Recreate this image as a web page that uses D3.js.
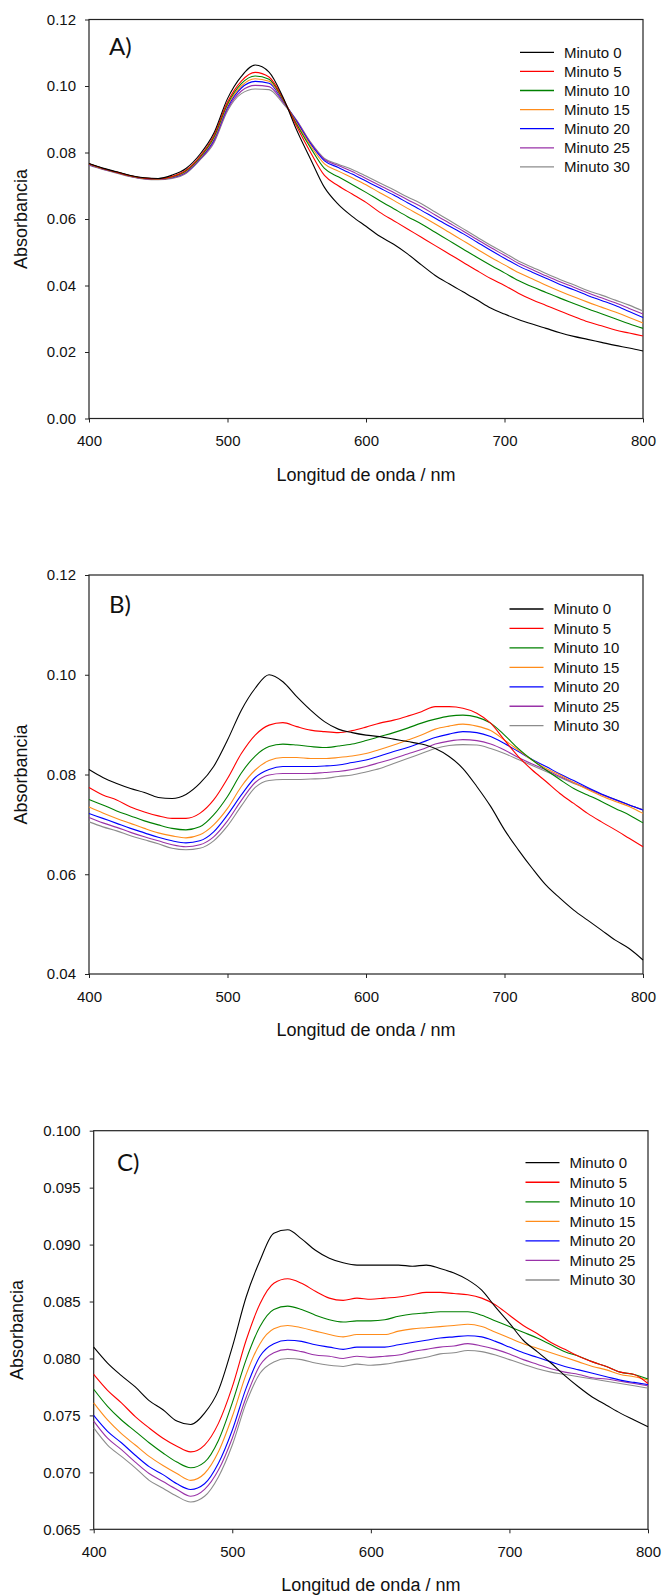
<!DOCTYPE html>
<html>
<head>
<meta charset="utf-8">
<script src="https://cdn.jsdelivr.net/npm/d3@7"></script>
<style>
  body { margin: 0; background: #fff; }
  svg { display: block; }
  .tick text { font-family: "Liberation Sans", Arial, sans-serif; font-size: 15px; fill: #111; }
  .ttl { font-family: "Liberation Sans", Arial, sans-serif; font-size: 18px; fill: #111; }
  .leg { font-family: "Liberation Sans", Arial, sans-serif; font-size: 15px; fill: #111; }
  .tag { font-family: Lato, "Open Sans", sans-serif; font-size: 24px; fill: #111; }
</style>
</head>
<body>
<div id="chart"></div>
<script>
// wavelength grid (nm) shared by every spectrum
var wavelengths = [400,410,420,430,440,450,460,470,480,490,500,510,520,530,540,550,560,570,580,590,600,
                   610,620,630,640,650,660,670,680,690,700,710,720,730,740,750,760,770,780,790,800];
var seriesNames = ['Minuto 0','Minuto 5','Minuto 10','Minuto 15','Minuto 20','Minuto 25','Minuto 30'];
var seriesColors = ['#000000','#ff0000','#008000','#ff8c1a','#0000ff','#9932a8','#8c8c8c'];
var xTicks = [400,500,600,700,800];
var yTicksA = [0,0.02,0.04,0.06,0.08,0.10,0.12];
var yTicksB = [0.04,0.06,0.08,0.10,0.12];
var yTicksC = [0.065,0.070,0.075,0.080,0.085,0.090,0.095,0.100];

// panel A
var absA0  = [.0767,.0753,.0742,.0731,.0724,.0722,.0732,.0752,.0794,.0857,.0962,.1029,.1063,.1042,.0967,.0867,.0780,.0695,.0644,.0608,.0578,
              .0548,.0524,.0495,.0462,.0430,.0405,.0381,.0357,.0332,.0314,.0298,.0284,.0271,.0258,.0247,.0238,.0229,.0220,.0212,.0203];
var absA5  = [.0766,.0752,.0741,.0730,.0723,.0721,.0728,.0747,.0788,.0850,.0952,.1015,.1041,.1027,.0963,.0878,.0800,.0731,.0700,.0675,.0650,
              .0620,.0595,.0570,.0545,.0520,.0495,.0470,.0445,.0421,.0400,.0377,.0357,.0340,.0323,.0307,.0291,.0279,.0266,.0257,.0248];
var absA10 = [.0766,.0752,.0741,.0730,.0723,.0721,.0727,.0745,.0785,.0845,.0946,.1007,.1030,.1020,.0960,.0884,.0814,.0752,.0727,.0704,.0680,
              .0655,.0631,.0607,.0585,.0560,.0535,.0510,.0485,.0461,.0438,.0415,.0396,.0379,.0362,.0346,.0330,.0315,.0300,.0285,.0271];
var absA15 = [.0765,.0751,.0740,.0729,.0722,.0720,.0726,.0743,.0783,.0841,.0941,.1000,.1022,.1014,.0958,.0888,.0821,.0766,.0744,.0724,.0703,
              .0679,.0656,.0632,.0609,.0585,.0560,.0535,.0510,.0485,.0462,.0439,.0420,.0401,.0383,.0366,.0350,.0335,.0320,.0304,.0287];
var absA20 = [.0764,.0751,.0740,.0729,.0722,.0720,.0725,.0741,.0781,.0837,.0936,.0994,.1014,.1008,.0956,.0892,.0826,.0775,.0755,.0735,.0714,
              .0693,.0672,.0649,.0626,.0602,.0579,.0556,.0531,.0506,.0482,.0459,.0440,.0422,.0403,.0387,.0370,.0355,.0340,.0322,.0304];
var absA25 = [.0763,.0750,.0739,.0728,.0721,.0719,.0724,.0739,.0779,.0832,.0930,.0985,.1002,.0998,.0952,.0895,.0829,.0779,.0761,.0743,.0722,
              .0701,.0680,.0658,.0637,.0612,.0588,.0564,.0539,.0514,.0491,.0467,.0448,.0429,.0411,.0395,.0378,.0363,.0348,.0331,.0314];
var absA30 = [.0762,.0749,.0738,.0727,.0720,.0718,.0722,.0737,.0777,.0827,.0925,.0977,.0991,.0989,.0948,.0897,.0831,.0782,.0765,.0749,.0729,
              .0708,.0688,.0666,.0646,.0621,.0596,.0571,.0546,.0521,.0498,.0474,.0455,.0436,.0418,.0402,.0385,.0371,.0356,.0341,.0323];

// panel B
var absB0  = [.0810,.0794,.0782,.0772,.0764,.0754,.0752,.0760,.0782,.0816,.0869,.0929,.0973,.1000,.0986,.0956,.0929,.0906,.0891,.0884,.0879,
              .0876,.0871,.0866,.0861,.0852,.0836,.0812,.0776,.0736,.0689,.0649,.0612,.0578,.0552,.0528,.0508,.0488,.0468,.0451,.0428];
var absB5  = [.0774,.0759,.0749,.0735,.0725,.0717,.0712,.0712,.0722,.0749,.0792,.0842,.0879,.0899,.0904,.0896,.0889,.0886,.0884,.0888,.0895,
              .0903,.0909,.0917,.0926,.0936,.0936,.0933,.0923,.0903,.0869,.0836,.0809,.0786,.0762,.0742,.0722,.0705,.0689,.0672,.0655];
var absB10 = [.0750,.0739,.0727,.0717,.0707,.0699,.0692,.0689,.0695,.0719,.0756,.0803,.0837,.0856,.0861,.0859,.0856,.0854,.0857,.0861,.0868,
              .0876,.0884,.0893,.0903,.0911,.0917,.0919,.0915,.0903,.0879,.0852,.0829,.0809,.0790,.0772,.0759,.0746,.0732,.0719,.0703];
var absB15 = [.0735,.0723,.0712,.0702,.0692,.0683,.0677,.0673,.0679,.0699,.0732,.0776,.0809,.0828,.0834,.0834,.0832,.0832,.0834,.0837,.0842,
              .0850,.0859,.0869,.0879,.0891,.0897,.0901,.0897,.0888,.0869,.0849,.0829,.0812,.0799,.0784,.0770,.0757,.0746,.0736,.0722];
var absB20 = [.0722,.0712,.0702,.0692,.0683,.0674,.0667,.0663,.0667,.0685,.0719,.0759,.0794,.0810,.0816,.0816,.0816,.0817,.0819,.0824,.0829,
              .0837,.0846,.0854,.0864,.0874,.0881,.0886,.0884,.0876,.0862,.0846,.0830,.0816,.0801,.0788,.0774,.0761,.0750,.0739,.0729];
var absB25 = [.0714,.0703,.0694,.0684,.0675,.0667,.0659,.0655,.0659,.0675,.0707,.0748,.0784,.0799,.0802,.0802,.0802,.0804,.0806,.0810,.0816,
              .0824,.0832,.0841,.0850,.0861,.0867,.0870,.0868,.0861,.0849,.0834,.0821,.0809,.0796,.0784,.0772,.0760,.0749,.0739,.0729];
var absB30 = [.0705,.0695,.0687,.0677,.0669,.0661,.0652,.0649,.0652,.0667,.0697,.0737,.0774,.0788,.0790,.0790,.0791,.0792,.0796,.0799,.0805,
              .0812,.0822,.0832,.0842,.0852,.0858,.0860,.0859,.0852,.0842,.0830,.0818,.0806,.0794,.0782,.0772,.0760,.0750,.0739,.0730];

// panel C
var absC0  = [.0810,.0796,.0785,.0775,.0763,.0755,.0745,.0742,.0752,.0772,.0810,.0854,.0886,.0910,.0913,.0905,.0895,.0888,.0884,.0882,.0882,
              .0882,.0882,.0881,.0882,.0879,.0875,.0869,.0860,.0845,.0831,.0816,.0806,.0796,.0785,.0775,.0766,.0759,.0752,.0746,.0740];
var absC5  = [.0786,.0772,.0761,.0749,.0739,.0730,.0723,.0718,.0724,.0743,.0775,.0816,.0848,.0866,.0870,.0866,.0859,.0853,.0851,.0853,.0852,
              .0853,.0854,.0856,.0858,.0858,.0857,.0856,.0853,.0847,.0838,.0829,.0822,.0814,.0808,.0802,.0797,.0793,.0788,.0786,.0778];
var absC10 = [.0773,.0758,.0746,.0736,.0726,.0717,.0709,.0704,.0709,.0728,.0761,.0799,.0828,.0843,.0846,.0843,.0838,.0834,.0832,.0833,.0833,
              .0834,.0837,.0839,.0840,.0841,.0841,.0841,.0838,.0833,.0828,.0823,.0818,.0812,.0806,.0802,.0797,.0793,.0788,.0786,.0782];
var absC15 = [.0761,.0746,.0734,.0724,.0714,.0706,.0699,.0693,.0699,.0718,.0749,.0786,.0813,.0826,.0829,.0827,.0824,.0821,.0819,.0821,.0821,
              .0821,.0824,.0826,.0827,.0828,.0829,.0830,.0828,.0823,.0818,.0813,.0809,.0805,.0801,.0797,.0793,.0790,.0786,.0784,.0781];
var absC20 = [.0750,.0736,.0726,.0715,.0705,.0698,.0690,.0685,.0690,.0708,.0737,.0774,.0802,.0813,.0816,.0815,.0812,.0810,.0808,.0810,.0810,
              .0810,.0812,.0814,.0816,.0818,.0819,.0820,.0819,.0815,.0810,.0805,.0801,.0797,.0793,.0790,.0787,.0784,.0781,.0779,.0777];
var absC25 = [.0745,.0730,.0720,.0709,.0699,.0692,.0685,.0679,.0685,.0702,.0730,.0766,.0794,.0805,.0808,.0806,.0803,.0802,.0800,.0802,.0801,
              .0802,.0803,.0806,.0808,.0810,.0811,.0813,.0811,.0808,.0804,.0799,.0795,.0791,.0788,.0786,.0783,.0782,.0780,.0778,.0776];
var absC30 = [.0739,.0724,.0714,.0704,.0693,.0686,.0679,.0674,.0679,.0696,.0724,.0761,.0787,.0797,.0800,.0799,.0796,.0794,.0793,.0795,.0794,
              .0795,.0797,.0799,.0801,.0804,.0805,.0807,.0806,.0803,.0799,.0795,.0791,.0788,.0786,.0784,.0782,.0780,.0778,.0776,.0774];

var panels = [
  { tag: 'A)', series: [absA0,absA5,absA10,absA15,absA20,absA25,absA30],
    left: 89, right: 643, top: 19.5, bottom: 418.5, yDomain: [0, 0.12], yTicks: yTicksA, fmt: '.2f',
    tagX: 109, tagY: 55, yTitleX: 21, xTitleY: 481,
    legX: 520, legY: 52.3, legStep: 19.1 },
  { tag: 'B)', series: [absB0,absB5,absB10,absB15,absB20,absB25,absB30],
    left: 89, right: 643, top: 575, bottom: 974, yDomain: [0.04, 0.12], yTicks: yTicksB, fmt: '.2f',
    tagX: 109, tagY: 613, yTitleX: 21, xTitleY: 1036,
    legX: 509.5, legY: 609, legStep: 19.45 },
  { tag: 'C)', series: [absC0,absC5,absC10,absC15,absC20,absC25,absC30],
    left: 93.7, right: 648, top: 1130.7, bottom: 1529.3, yDomain: [0.065, 0.100], yTicks: yTicksC, fmt: '.3f',
    tagX: 117, tagY: 1171, yTitleX: 17, xTitleY: 1591,
    legX: 525.5, legY: 1162.7, legStep: 19.55 }
];

var svg = d3.select('#chart').append('svg')
  .attr('width', 662)
  .attr('height', 1596);

panels.forEach(function(p){
  drawPanel(p);
});

function drawPanel(p){
  var x = d3.scaleLinear().domain([400, 800]).range([p.left, p.right]);
  var y = d3.scaleLinear().domain(p.yDomain).range([p.bottom, p.top]);
  var g = svg.append('g');

  var xAxis = g.append('g')
    .attr('transform', 'translate(0,' + p.bottom + ')')
    .call(d3.axisBottom(x).tickValues(xTicks).tickSize(4).tickSizeOuter(0).tickPadding(13).tickFormat(d3.format('d')));
  var yAxis = g.append('g')
    .attr('transform', 'translate(' + p.left + ',0)')
    .call(d3.axisLeft(y).tickValues(p.yTicks).tickSize(4).tickSizeOuter(0).tickPadding(9).tickFormat(d3.format(p.fmt)));
  [xAxis, yAxis].forEach(function(a){
    a.select('.domain').remove();
    a.selectAll('.tick line').attr('stroke', '#222');
  });

  // frame around plot area
  g.append('rect')
    .attr('x', p.left).attr('y', p.top)
    .attr('width', p.right - p.left).attr('height', p.bottom - p.top)
    .attr('fill', 'none').attr('stroke', '#222').attr('stroke-width', 1.2);

  var line = d3.line()
    .x(function(d, i){ return x(wavelengths[i]); })
    .y(function(d){ return y(d); })
    .curve(d3.curveMonotoneX);

  // draw last series first so black sits on top
  p.series.slice().reverse().forEach(function(s, k){
    var idx = p.series.length - 1 - k;
    g.append('path')
      .attr('d', line(s))
      .attr('fill', 'none')
      .attr('stroke', seriesColors[idx])
      .attr('stroke-width', 1.1);
  });

  g.append('text').attr('class', 'tag')
    .attr('x', p.tagX).attr('y', p.tagY)
    .text(p.tag);

  var leg = g.append('g');
  seriesNames.forEach(function(name, i){
    var yy = p.legY + i * p.legStep;
    leg.append('line')
      .attr('x1', p.legX).attr('x2', p.legX + 34)
      .attr('y1', yy).attr('y2', yy)
      .attr('stroke', seriesColors[i]).attr('stroke-width', 1.3);
    leg.append('text').attr('class', 'leg')
      .attr('x', p.legX + 44).attr('y', yy).attr('dy', '0.35em')
      .text(name);
  });

  g.append('text').attr('class', 'ttl')
    .attr('x', (p.left + p.right) / 2).attr('y', p.xTitleY)
    .attr('text-anchor', 'middle')
    .text('Longitud de onda / nm');

  g.append('text').attr('class', 'ttl')
    .attr('transform', 'translate(' + p.yTitleX + ',' + ((p.top + p.bottom) / 2) + ') rotate(-90)')
    .attr('text-anchor', 'middle')
    .attr('dy', '0.35em')
    .text('Absorbancia');
}
</script>
</body>
</html>
